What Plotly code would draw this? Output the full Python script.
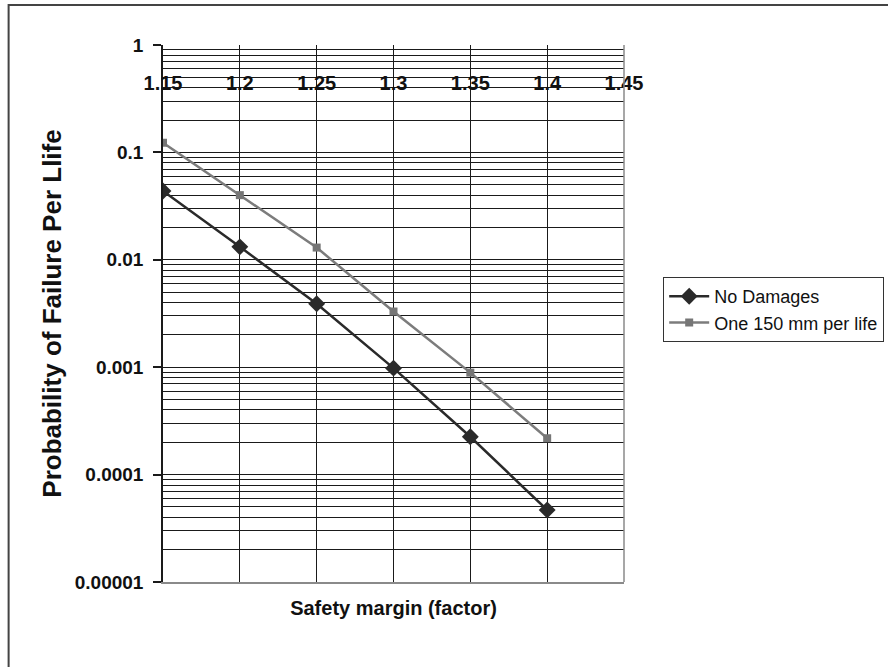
import plotly.graph_objects as go

# Safety margin factors and failure probabilities per life
safety_margin = [1.15, 1.2, 1.25, 1.3, 1.35, 1.4]
no_damages = [0.0437, 0.0132, 0.0039, 0.00098, 0.000225, 0.0000468]
one_150mm = [0.123, 0.040, 0.013, 0.0033, 0.00089, 0.000218]

x_ticks = [1.15, 1.2, 1.25, 1.3, 1.35, 1.4, 1.45]
x_tick_text = ["1.15", "1.2", "1.25", "1.3", "1.35", "1.4", "1.45"]
y_ticks = [1, 0.1, 0.01, 0.001, 0.0001, 0.00001]
y_tick_text = ["1", "0.1", "0.01", "0.001", "0.0001", "0.00001"]

# minor gridlines at 2..9 within each decade
minor_vals = [m * d for d in [1e-5, 1e-4, 1e-3, 1e-2, 1e-1] for m in range(2, 10)]

SANS = "Liberation Sans, Arial, sans-serif"
GRID = "#1a1a1a"
TXT = "#111111"

fig = go.Figure()
fig.add_trace(go.Scatter(
    x=safety_margin, y=no_damages, name="No Damages", mode="lines+markers",
    line=dict(color="#2a2a2a", width=2.5),
    marker=dict(symbol="diamond", size=13, color="#2a2a2a"),
))
fig.add_trace(go.Scatter(
    x=safety_margin, y=one_150mm, name="One 150 mm per life", mode="lines+markers",
    line=dict(color="#7c7c7c", width=2.5),
    marker=dict(symbol="square", size=8, color="#767676"),
))
# invisible trace carrying the second x axis used for the inner tick labels
fig.add_trace(go.Scatter(x=[x_ticks[0], x_ticks[-1]], y=[1e-3, 1e-3], xaxis="x2",
                         mode="markers", marker=dict(opacity=0), showlegend=False,
                         hoverinfo="skip"))

fig.update_layout(
    width=888, height=667,
    margin=dict(l=163, r=264, t=45, b=85, autoexpand=False),
    paper_bgcolor="white", plot_bgcolor="white",
    font=dict(family=SANS, color=TXT),
    xaxis=dict(
        range=[1.15, 1.45], tickvals=x_ticks, showticklabels=False,
        showgrid=True, gridcolor=GRID, gridwidth=1.4, zeroline=False,
        showline=True, linecolor="#8a8a8a", linewidth=1.5, mirror=False,
        ticks="",
        title=dict(text="Safety margin (factor)", standoff=18,
                   font=dict(family=SANS, size=20, color=TXT, weight="bold")),
    ),
    xaxis2=dict(
        range=[1.15, 1.45], tickvals=x_ticks, ticktext=x_tick_text,
        overlaying="x", anchor="free", position=0.955, side="bottom",
        showgrid=False, zeroline=False, showline=False, ticks="",
        tickfont=dict(family=SANS, size=20, color=TXT, weight="bold"),
    ),
    yaxis=dict(
        type="log", range=[-5, 0], tickvals=y_ticks, ticktext=y_tick_text,
        showgrid=True, gridcolor=GRID, gridwidth=1.4, zeroline=False,
        showline=True, linecolor=GRID, linewidth=1.5,
        ticks="outside", ticklen=8, tickcolor=GRID, tickwidth=1.5,
        ticklabelstandoff=6,
        tickfont=dict(family=SANS, size=19, color=TXT, weight="bold"),
        minor=dict(tickvals=minor_vals, showgrid=True, gridcolor=GRID,
                   gridwidth=1.4, ticks=""),
        title=dict(text="Probability of Failure Per Llife", standoff=6,
                   font=dict(family=SANS, size=26, color=TXT, weight="bold")),
    ),
    legend=dict(
        x=1.085, xanchor="left", y=0.568, yanchor="top",
        bordercolor="#333", borderwidth=1, bgcolor="white",
        font=dict(family=SANS, size=18, color=TXT),
        itemwidth=40, tracegroupgap=0,
    ),
    showlegend=True,
)

# right edge of the plotting area
fig.add_shape(type="line", xref="paper", yref="paper", x0=1, x1=1, y0=0, y1=1,
              line=dict(color="#8a8a8a", width=1.5))

# outer chart frame
fig.add_shape(type="rect", xref="paper", yref="paper",
              x0=-0.3349, x1=1.6, y0=-0.2, y1=1.0745,
              line=dict(color="#444", width=2), fillcolor="rgba(0,0,0,0)",
              layer="below")

fig.write_html("out.html")
